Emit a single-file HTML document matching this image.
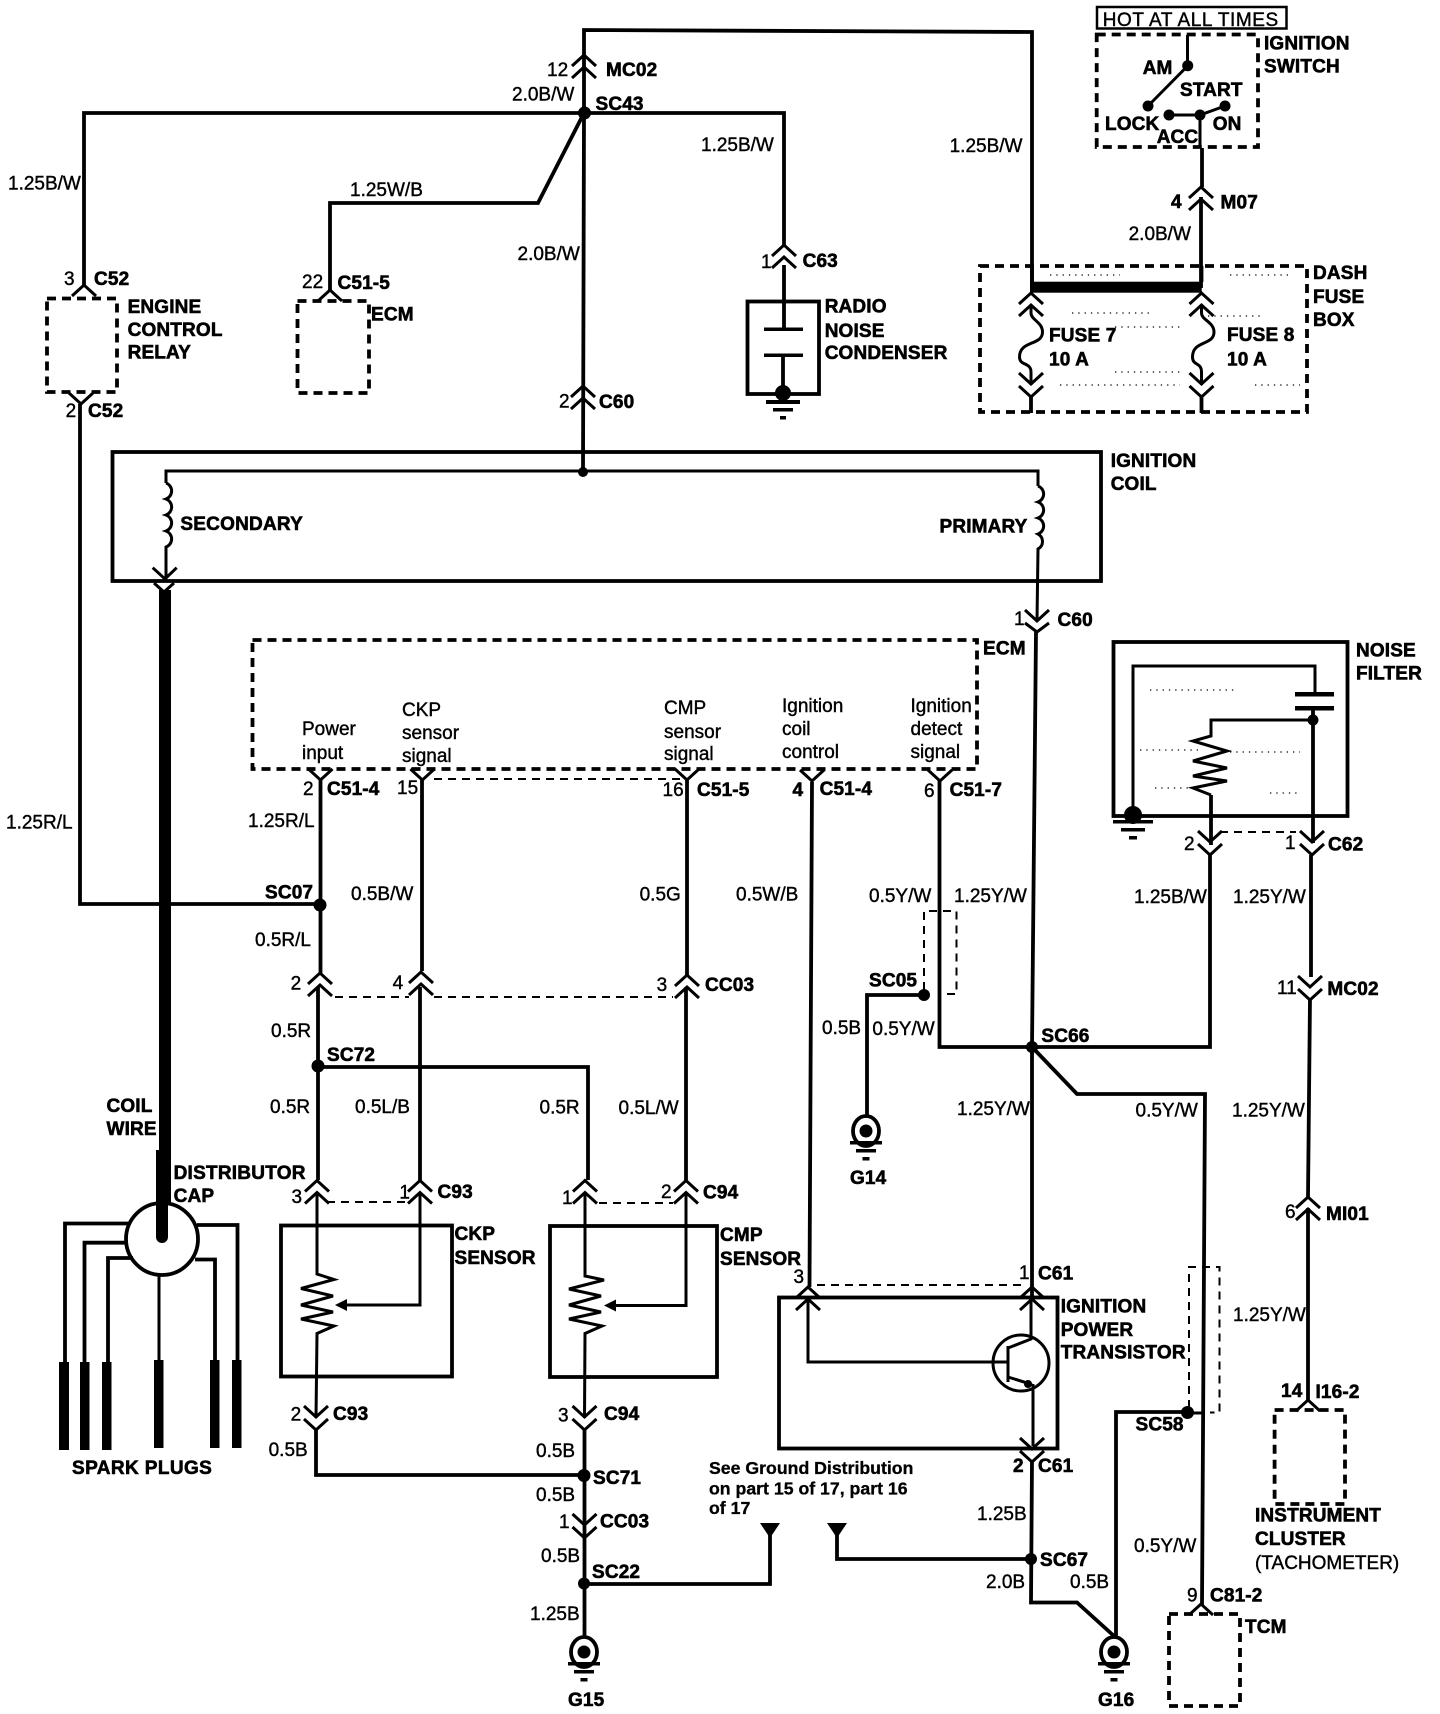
<!DOCTYPE html>
<html><head><meta charset="utf-8"><style>
html,body{margin:0;padding:0;background:#fff}
svg{display:block}
text{font-family:"Liberation Sans",sans-serif;font-size:19px;fill:#000;stroke:#000;stroke-width:.4}
.b{font-weight:bold;stroke-width:.6;letter-spacing:.15px}
.s{font-size:17.7px;font-weight:bold;stroke-width:.3}
.w{fill:none;stroke:#000;stroke-width:3.8}
.t{fill:none;stroke:#000;stroke-width:3}
.d{fill:none;stroke:#000;stroke-width:3.8;stroke-dasharray:9 6}
.l{fill:none;stroke:#000;stroke-width:2;stroke-dasharray:8 6}
.sp{fill:none;stroke:#000;stroke-width:1.3;stroke-dasharray:1.3 5}
</style></head><body>
<svg xmlns="http://www.w3.org/2000/svg" width="1440" height="1714" viewBox="0 0 1440 1714">
<defs>
<g id="ca"><path d="M-12,11 L0,0 L12,11" fill="none" stroke="#000" stroke-width="3"/></g>
<g id="va"><path d="M-12,0 L0,11 L12,0" fill="none" stroke="#000" stroke-width="3"/></g>
<g id="up"><path d="M-12,11 L0,0 L12,11 M-12,23 L0,12 L12,23" fill="none" stroke="#000" stroke-width="3"/></g>
<g id="dn"><path d="M-12,0 L0,11 L12,0 M-12,13 L0,24 L12,13" fill="none" stroke="#000" stroke-width="3"/></g>
<g id="gnd"><ellipse cx="0" cy="0" rx="13" ry="15" fill="#fff" stroke="#000" stroke-width="3.8"/><circle r="6.5" fill="#000"/><rect x="-16" y="10" width="32" height="3.5"/><rect x="-10" y="18" width="20" height="3.5"/><rect x="-3.5" y="26" width="7" height="3.5"/></g>
</defs>

<!-- upper harness -->
<path class="w" d="M84,285 V113 H784 V245"/>
<path class="w" d="M584,113 V30 L1032,32 V288"/>
<path class="w" d="M584,113 L583,472"/>
<path class="w" d="M584,113 L538,203 H330 V290"/>
<circle cx="584.5" cy="113" r="6.5"/>
<use href="#up" x="584" y="55"/>
<use href="#up" x="583" y="386"/>
<use href="#ca" x="84" y="285"/>
<use href="#ca" x="330" y="290"/>
<use href="#up" x="784" y="245"/>

<!-- relay / ecm small -->
<rect class="d" x="47" y="298.5" width="70" height="93.5"/>
<rect class="d" x="297.5" y="301" width="71.5" height="92"/>
<use href="#va" x="81" y="393"/>
<path class="w" d="M80,404 V904 H320"/>

<!-- radio noise condenser -->
<rect class="w" x="747.5" y="301.5" width="71.5" height="92.5"/>
<path class="w" d="M784,265 V329 M783,355 V390"/>
<rect x="764" y="327.5" width="39" height="3.5"/><rect x="764" y="353.5" width="39" height="3.5"/>
<circle cx="783" cy="393" r="8"/>
<rect x="766" y="400" width="34" height="4"/><rect x="773" y="408" width="20" height="3.5"/><rect x="780" y="416" width="6" height="3.5"/>

<!-- ignition switch -->
<rect x="1097" y="7" width="189.5" height="21.5" fill="none" stroke="#000" stroke-width="2.5"/>
<rect class="d" x="1096.7" y="34.5" width="161.3" height="112.5"/>
<path class="t" d="M1187.5,35 V66 L1148,106 M1169,115 H1200 L1225,106"/>
<circle cx="1187.7" cy="65.7" r="5.5"/><circle cx="1148" cy="106" r="5.5"/><circle cx="1169" cy="115" r="5.5"/><circle cx="1200" cy="115" r="5.5"/><circle cx="1225" cy="106" r="5.5"/>
<path class="t" d="M1200,115 V148"/>
<path class="w" d="M1202,148 V187 M1201,197 V266 V288"/>
<use href="#up" x="1201" y="187"/>

<!-- dash fuse box -->
<rect class="d" x="980" y="266" width="327" height="146"/>
<rect x="1030" y="281.7" width="171.7" height="11"/>
<path class="w" d="M1032,266 V282 M1201.5,266 V282"/>
<use href="#up" x="1031" y="293"/>
<use href="#up" x="1201.5" y="293"/>
<path class="t" d="M1031,305 V313 C1031,320 1042.5,322 1042.5,332 C1042.5,346 1019.5,340 1019.5,357 C1019.5,366 1031,362 1031,372 V385"/>
<path class="t" d="M1201.5,305 V313 C1201.5,320 1214,322 1214,332 C1214,346 1192.5,340 1192.5,357 C1192.5,366 1201.5,362 1201.5,372 V385"/>
<use href="#dn" x="1031" y="373"/>
<use href="#dn" x="1201.5" y="373"/>
<path class="w" d="M1031,397 V413 M1201.5,397 V413"/>
<path class="sp" d="M1050,275 H1120 M1072,313 H1150 M1115,327 H1180 M1115,372 H1180 M1060,385 H1180 M1230,275 H1290 M1208,316 H1260 M1255,385 H1300"/>

<!-- ignition coil -->
<rect class="w" x="112.5" y="452" width="988.5" height="129"/>
<path class="t" d="M166,483 V471 H1038 V486"/>
<circle cx="583" cy="472" r="5"/>
<path class="t" d="M166,483 a8.5,8.5 0 0 1 0,16 a8.5,8.5 0 0 1 0,16 a8.5,8.5 0 0 1 0,16 a8.5,8.5 0 0 1 0,16 V579"/>
<path class="t" d="M1038,486 a8.5,8.5 0 0 1 0,16 a8.5,8.5 0 0 1 0,16 a8.5,8.5 0 0 1 0,16 a8.5,8.5 0 0 1 0,15 L1037,621"/>
<path d="M152.7,567.7 L165,579 L176.7,567.7 M154,583 L164,592 L174,583" fill="none" stroke="#000" stroke-width="3"/>
<path d="M165,590 V1237" fill="none" stroke="#000" stroke-width="12"/>
<path d="M1025,610 L1037,621 L1049,610 M1025,623 L1037,632 L1049,623" fill="none" stroke="#000" stroke-width="3"/>

<path class="w" d="M1036,631 L1032,1047 L1032,1297"/>
<circle cx="1032" cy="1047" r="6"/>

<!-- ECM main -->
<rect class="d" x="252.5" y="640" width="724.5" height="129"/>
<use href="#va" x="320.5" y="769"/><use href="#va" x="422.4" y="769"/><use href="#va" x="687" y="769"/><use href="#va" x="812" y="770"/><use href="#va" x="940" y="770"/>
<path class="l" d="M434,779 H680"/>

<!-- CKP group -->
<path class="w" d="M320.5,780 V973"/>
<circle cx="320" cy="905" r="6.5"/>
<use href="#up" x="320" y="973"/>
<path class="w" d="M318,987 V1180"/>
<circle cx="318" cy="1066" r="6.5"/>
<path class="w" d="M422,780 V971"/>
<use href="#up" x="421" y="972"/>
<path class="w" d="M420,987 V1180"/>
<path class="w" d="M687,780 V975"/>
<use href="#up" x="687" y="975"/>
<path class="w" d="M686,987 V1180"/>
<path class="l" d="M335,997 H409 M434,997 H673"/>
<path class="w" d="M318,1067 H588 V1180"/>

<use href="#up" x="317" y="1180.5"/><use href="#up" x="420" y="1180.5"/><use href="#up" x="585" y="1180.5"/><use href="#up" x="686" y="1180.5"/>
<path class="l" d="M327,1202 H406 M599,1203 H673"/>

<!-- sensors -->
<rect class="w" x="281" y="1225.5" width="171" height="151"/>
<rect class="w" x="550" y="1226" width="167" height="151"/>
<path class="t" d="M317,1192 V1274 L334,1279.5 L301,1288.5 L333,1296 L301,1305 L333,1312 L301,1319 L334,1326 L317,1333.5 L316,1418"/>
<path class="t" d="M585,1192 V1276 L604,1280 L569,1289 L601,1296 L569,1305 L601,1312 L569,1319 L602,1326 L585,1333.5 L584.5,1418"/>
<path class="t" d="M420,1192 V1305 H340"/>
<path d="M335,1305 L347,1299 V1311 Z"/>
<path class="t" d="M686,1192 V1305.5 H610"/>
<path d="M604,1305.5 L616,1299.5 V1311.5 Z"/>
<use href="#dn" x="316" y="1406"/>
<use href="#dn" x="584.5" y="1406"/>
<path class="w" d="M316,1430 V1475 H584"/>
<path class="w" d="M584.5,1430 V1639"/>
<circle cx="584" cy="1475.5" r="6.5"/>
<use href="#dn" x="584.5" y="1514"/>
<circle cx="584" cy="1583.5" r="6"/>
<path class="w" d="M584,1584 H770 V1535"/>
<path d="M760,1523 H780 L770,1538 Z"/>
<path class="w" d="M1031,1559 H837 V1535"/>
<path d="M827,1523 H847 L837,1538 Z"/>
<use href="#gnd" x="584" y="1652"/>

<!-- distributor and plugs -->
<circle cx="162" cy="1239" r="36" fill="#fff" stroke="#000" stroke-width="3.8"/>
<path d="M162,1150 V1237" fill="none" stroke="#000" stroke-width="12"/>
<circle cx="162" cy="1237" r="6"/>
<path class="w" d="M128,1223.5 H65 V1362 M125,1242.7 H84.5 V1362 M133,1258 H108 V1362 M195,1259.5 H215 V1360 M197,1225 H237.5 V1360"/>
<path class="t" d="M159,1275 V1360"/>
<rect x="59" y="1362" width="10" height="88"/><rect x="80" y="1362" width="9.5" height="88"/><rect x="102" y="1362" width="9.5" height="88"/><rect x="154" y="1360" width="9.5" height="88"/><rect x="210" y="1360" width="9.5" height="88"/><rect x="232" y="1360" width="9.5" height="88"/>

<!-- power transistor -->
<path class="w" d="M812,782 L809.5,1287"/>
<use href="#up" x="808" y="1287"/>
<use href="#up" x="1032" y="1287"/>
<path class="l" d="M817,1285 H1022"/>
<rect class="w" x="779" y="1297.5" width="278.5" height="151"/>
<path class="t" d="M808,1300 V1362 H1008 M1008,1346 V1382 M1031,1300 V1339 L1008,1348 M1008,1377 L1032,1384.5 M1033,1384 V1446"/>
<circle cx="1021" cy="1363" r="28" fill="none" stroke="#000" stroke-width="3"/>
<circle cx="1028" cy="1384" r="4"/>
<use href="#dn" x="1032" y="1438"/>
<path class="w" d="M1032,1460 L1031,1602.5 H1077 L1114,1636"/>
<circle cx="1031" cy="1559" r="6"/>
<path class="w" d="M1187,1412 H1116 V1638"/>
<circle cx="1187.5" cy="1412.5" r="6.5"/>
<path class="t" d="M1187,1413 H1203"/>
<use href="#gnd" x="1114" y="1652"/>
<path class="l" d="M1189,1408 V1267 H1219.5 V1412.5 H1210"/>

<!-- SC66 right -->
<path class="w" d="M939.5,780 V1047 H1210 V854"/>
<path class="w" d="M1032,1047 L1077,1094 H1205 L1202,1605"/>
<use href="#ca" x="1201" y="1604"/>
<rect class="d" x="1169" y="1614" width="71" height="92"/>
<path class="l" d="M924,990 V911 H956.5 V994 H943"/>
<circle cx="924" cy="995" r="6"/>
<path class="w" d="M924,995 H867 V1117"/>
<use href="#gnd" x="866" y="1131"/>

<!-- noise filter -->
<rect class="w" x="1113.5" y="642" width="234" height="174"/>
<path class="t" d="M1133,808 V666 H1315 V693"/>
<rect x="1295" y="692" width="39" height="4.5"/><rect x="1295" y="706" width="39" height="4.5"/>
<path class="w" d="M1313,710 V843"/>
<circle cx="1313" cy="720" r="5.5"/>
<path class="t" d="M1313,720 H1211 V736 L1193,741 L1227,751 L1193,761 L1227,768 L1193,776 L1227,781 L1193,788 L1211,795"/>
<path class="w" d="M1211,795 V845"/>
<circle cx="1133" cy="815" r="9"/>
<rect x="1113" y="820" width="40" height="3.5"/><rect x="1121" y="828" width="24" height="3.5"/><rect x="1129" y="836" width="8" height="3.5"/>
<use href="#dn" x="1210" y="831"/>
<use href="#dn" x="1312" y="831"/>
<path class="l" d="M1220,832 H1296"/>
<path class="w" d="M1311,855 V977 M1310,998 L1308,1197 M1308,1208 V1400"/>
<use href="#dn" x="1310" y="976"/>
<use href="#up" x="1308" y="1197"/>
<use href="#ca" x="1308" y="1400"/>
<rect class="d" x="1274.6" y="1410" width="70.4" height="94"/>
<path class="sp" d="M1140,750 H1200 M1230,752 H1300 M1150,690 H1235 M1155,788 H1190 M1270,793 H1300"/>

<!-- labels -->
<text x="547" y="76">12</text><text class="b" x="606" y="76">MC02</text>
<text x="512" y="100.5">2.0B/W</text><text class="b" x="595.5" y="110">SC43</text>
<text x="8" y="189.5">1.25B/W</text><text x="350" y="196">1.25W/B</text>
<text x="517.5" y="260">2.0B/W</text><text x="701" y="151">1.25B/W</text><text x="949.6" y="152">1.25B/W</text>
<text x="64" y="285">3</text><text class="b" x="94" y="285">C52</text>
<text x="302" y="288">22</text><text class="b" x="337.5" y="289">C51-5</text>
<text class="b" x="127.6" y="313">ENGINE</text><text class="b" x="127.6" y="336">CONTROL</text><text class="b" x="127.6" y="358.6">RELAY</text>
<text class="b" x="371" y="320.7">ECM</text>
<text x="65.6" y="417">2</text><text class="b" x="88" y="417">C52</text>
<text x="559" y="407.6">2</text><text class="b" x="599" y="408">C60</text>
<text class="b" x="180.4" y="530" textLength="122.6">SECONDARY</text>
<text x="761" y="268">1</text><text class="b" x="802.6" y="267">C63</text>
<text class="b" x="824.7" y="312.7">RADIO</text><text class="b" x="824.7" y="336.8">NOISE</text><text class="b" x="824.7" y="359">CONDENSER</text>
<text x="1102.7" y="26" textLength="175.5">HOT AT ALL TIMES</text>
<text class="b" x="1264" y="49.5">IGNITION</text><text class="b" x="1264" y="72.7">SWITCH</text>
<text class="b" x="1142.7" y="74">AM</text><text class="b" x="1180" y="96">START</text><text class="b" x="1105" y="130">LOCK</text><text class="b" x="1156.7" y="143">ACC</text><text class="b" x="1212.7" y="130">ON</text>
<text class="b" x="1171" y="208">4</text><text class="b" x="1220.5" y="208.6">M07</text>
<text x="1128.6" y="240">2.0B/W</text>
<text class="b" x="1313" y="279">DASH</text><text class="b" x="1313" y="303">FUSE</text><text class="b" x="1313" y="326">BOX</text>
<text class="b" x="1049" y="341.7">FUSE 7</text><text class="b" x="1049" y="365.5">10 A</text>
<text class="b" x="1227" y="341">FUSE 8</text><text class="b" x="1227" y="365.5">10 A</text>
<text class="b" x="1110.7" y="467">IGNITION</text><text class="b" x="1110.7" y="490">COIL</text>
<text class="b" x="939.5" y="532.7">PRIMARY</text>
<text x="1014" y="625">1</text><text class="b" x="1057.5" y="626">C60</text>
<text class="b" x="983" y="654.7">ECM</text>
<text class="b" x="1356" y="656.6">NOISE</text><text class="b" x="1356" y="679.6">FILTER</text>
<text x="302" y="735">Power</text><text x="302" y="759">input</text>
<text x="402" y="716">CKP</text><text x="402" y="739">sensor</text><text x="402" y="762">signal</text>
<text x="664" y="714">CMP</text><text x="664" y="738">sensor</text><text x="664" y="760">signal</text>
<text x="782" y="712">Ignition</text><text x="782" y="735">coil</text><text x="782" y="758">control</text>
<text x="910.5" y="712">Ignition</text><text x="910.5" y="735">detect</text><text x="910.5" y="758">signal</text>
<text x="303" y="795">2</text><text class="b" x="327" y="795">C51-4</text><text x="397" y="794">15</text>
<text x="662.5" y="796">16</text><text class="b" x="697" y="796">C51-5</text>
<text class="b" x="792.5" y="796">4</text><text class="b" x="819.6" y="795">C51-4</text>
<text x="924" y="797">6</text><text class="b" x="949.6" y="796">C51-7</text>
<text x="1184" y="850">2</text><text x="1285" y="849">1</text><text class="b" x="1328" y="850.7">C62</text>
<text x="6" y="828.5">1.25R/L</text><text x="248" y="827">1.25R/L</text>
<text class="b" x="265" y="898.5">SC07</text><text x="351" y="900">0.5B/W</text><text x="639.6" y="900.4">0.5G</text>
<text x="736" y="900.4">0.5W/B</text><text x="869" y="902">0.5Y/W</text><text x="954" y="902">1.25Y/W</text><text x="1134" y="903">1.25B/W</text><text x="1233" y="903">1.25Y/W</text>
<text x="255" y="946">0.5R/L</text>
<text x="290.6" y="989.6">2</text><text x="392.6" y="989">4</text><text x="656.6" y="991">3</text><text class="b" x="705" y="991">CC03</text>
<text class="b" x="869" y="986.5">SC05</text><text x="1277" y="994">11</text><text class="b" x="1327.4" y="995">MC02</text>
<text x="271" y="1037">0.5R</text><text x="822" y="1034">0.5B</text><text x="872.4" y="1035">0.5Y/W</text>
<text class="b" x="1041.4" y="1042">SC66</text><text class="b" x="327" y="1061">SC72</text>
<text x="270" y="1113">0.5R</text><text x="355" y="1113">0.5L/B</text><text x="539.5" y="1113.6">0.5R</text><text x="618.5" y="1114">0.5L/W</text>
<text x="957" y="1115">1.25Y/W</text><text x="1135.5" y="1116.6">0.5Y/W</text><text x="1232" y="1116.6">1.25Y/W</text>
<text class="b" x="106.5" y="1112">COIL</text><text class="b" x="106.5" y="1135">WIRE</text>
<text class="b" x="173.6" y="1179" textLength="132">DISTRIBUTOR</text><text class="b" x="173.6" y="1202">CAP</text>
<text class="b" x="850" y="1184">G14</text>
<text x="291.5" y="1203">3</text><text x="399.4" y="1198.6">1</text><text class="b" x="437.5" y="1198">C93</text>
<text x="562" y="1204">1</text><text x="661" y="1198">2</text><text class="b" x="703" y="1198.5">C94</text>
<text x="1285" y="1218">6</text><text class="b" x="1326" y="1220">MI01</text>
<text class="b" x="454.5" y="1240">CKP</text><text class="b" x="454.5" y="1264">SENSOR</text>
<text class="b" x="720" y="1241">CMP</text><text class="b" x="720" y="1265">SENSOR</text>
<text x="793.5" y="1283">3</text><text x="1019" y="1279">1</text><text class="b" x="1038" y="1279.5">C61</text>
<text class="b" x="1060.7" y="1312.6">IGNITION</text><text class="b" x="1060.7" y="1336">POWER</text><text class="b" x="1060.7" y="1358.6" textLength="125">TRANSISTOR</text>
<text x="1233" y="1321">1.25Y/W</text>
<text class="b" x="1281" y="1397">14</text><text class="b" x="1315.5" y="1398">I16-2</text>
<text class="b" x="1135.5" y="1430.6">SC58</text>
<text x="290.6" y="1420.5">2</text><text class="b" x="333" y="1420">C93</text><text x="558" y="1421.6">3</text><text class="b" x="604" y="1420">C94</text>
<text x="268.6" y="1456">0.5B</text><text x="536" y="1457">0.5B</text>
<text class="b" x="72" y="1474" textLength="140">SPARK PLUGS</text>
<text class="b" x="593" y="1484">SC71</text><text x="536" y="1501">0.5B</text>
<text x="559" y="1528">1</text><text class="b" x="600" y="1527.6">CC03</text>
<text x="541" y="1562">0.5B</text><text class="b" x="592" y="1578">SC22</text><text x="530" y="1620">1.25B</text>
<text class="b" x="568" y="1706">G15</text>
<text class="s" x="709" y="1474">See Ground Distribution</text><text class="s" x="709" y="1494.6">on part 15 of 17, part 16</text><text class="s" x="709" y="1514">of 17</text>
<text class="b" x="1013" y="1472">2</text><text class="b" x="1038" y="1472">C61</text>
<text x="977" y="1520">1.25B</text><text class="b" x="1040" y="1566">SC67</text>
<text x="986" y="1588">2.0B</text><text x="1070" y="1588">0.5B</text><text x="1134" y="1552">0.5Y/W</text>
<text class="b" x="1255" y="1521.6">INSTRUMENT</text><text class="b" x="1255" y="1545">CLUSTER</text><text x="1255" y="1569">(TACHOMETER)</text>
<text x="1187" y="1601.5">9</text><text class="b" x="1210" y="1601.5">C81-2</text><text class="b" x="1245" y="1633">TCM</text>
<text class="b" x="1098" y="1706">G16</text>
</svg>
</body></html>
